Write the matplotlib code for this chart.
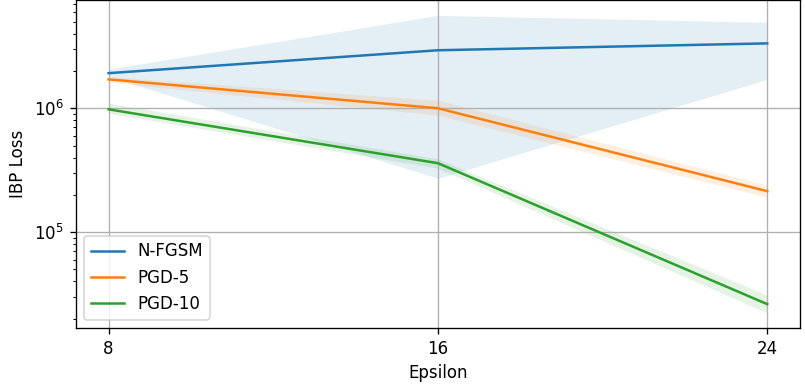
import matplotlib
matplotlib.use("Agg")
import matplotlib.pyplot as plt

eps = [8, 16, 24]

# mean IBP loss per method, with lower/upper band
nfgsm = [1.92e6, 2.94e6, 3.34e6]
nfgsm_lo = [1.80e6, 2.72e5, 1.71e6]
nfgsm_hi = [2.07e6, 5.62e6, 4.94e6]

pgd5 = [1.71e6, 1.0e6, 2.14e5]
pgd5_lo = [1.62e6, 0.88e6, 1.91e5]
pgd5_hi = [1.80e6, 1.16e6, 2.39e5]

pgd10 = [0.98e6, 3.6e5, 2.62e4]
pgd10_lo = [0.91e6, 3.28e5, 2.22e4]
pgd10_hi = [1.10e6, 3.9e5, 3.1e4]

labels = ["N-FGSM", "PGD-5", "PGD-10"]
colors = ["#1f77b4", "#ff7f0e", "#2ca02c"]

fig, ax = plt.subplots(figsize=(805 / 120, 385 / 120), dpi=120)
fig.subplots_adjust(left=0.094, right=0.994, bottom=0.148, top=0.999)

series = [(nfgsm, nfgsm_lo, nfgsm_hi), (pgd5, pgd5_lo, pgd5_hi), (pgd10, pgd10_lo, pgd10_hi)]
for (m, lo, hi), lab, c in zip(series, labels, colors):
    ax.plot(eps, m, color=c, lw=1.5, label=lab)
    ax.fill_between(eps, lo, hi, color=c, alpha=0.12, lw=0)

ax.set_yscale("log")
ax.set_ylim(1.68e4, 7.43e6)
ax.set_xticks(eps)
ax.grid(True, which="major")
ax.set_xlabel("Epsilon")
ax.set_ylabel("IBP Loss")
ax.legend(loc="lower left")

fig.savefig("out.png", dpi=120)
